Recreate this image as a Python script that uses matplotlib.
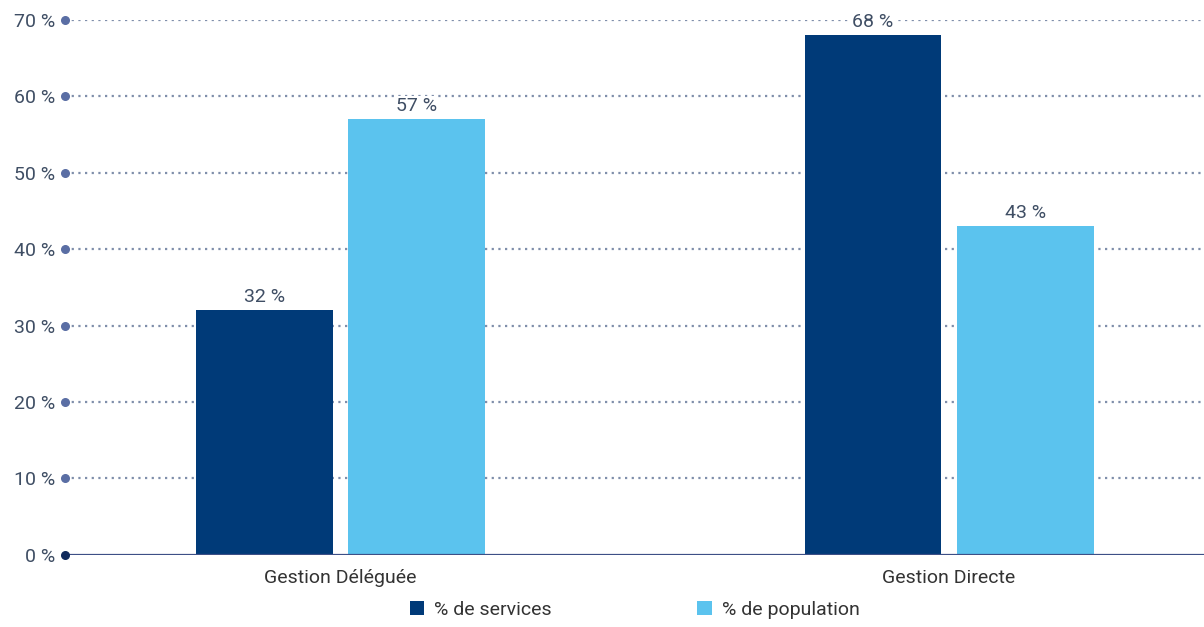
import matplotlib
matplotlib.use('Agg')
import matplotlib.pyplot as plt
import numpy as np

plt.rcParams['font.family'] = ['Roboto', 'DejaVu Sans']

categories = ['Gestion Déléguée', 'Gestion Directe']
services = [32, 68]
population = [57, 43]
series_names = ['% de services', '% de population']
yticks = [0, 10, 20, 30, 40, 50, 60, 70]

DARK = '#003a78'
LIGHT = '#5bc3ee'
GRID = '#7f8eaa'
TEXT = '#3f4e64'

fig = plt.figure(figsize=(12.04, 6.27), dpi=100)
ax = fig.add_axes([0.054, 0.115, 0.946, 0.853])

x = np.arange(len(categories))
w = 0.225
off = 0.125
b1 = ax.bar(x - off, services, w, color=DARK, label=series_names[0], zorder=3)
b2 = ax.bar(x + off, population, w, color=LIGHT, label=series_names[1], zorder=3)

for bars in (b1, b2):
    for rect in bars:
        v = rect.get_height()
        ax.annotate(f'{v:.0f} %', (rect.get_x() + rect.get_width() / 2, v),
                    xytext=(0, 3), textcoords='offset points',
                    ha='center', va='bottom', fontsize=14, color=TEXT, zorder=5,
                    bbox=dict(boxstyle='square,pad=0.05', fc='white', ec='none'))

ax.set_xlim(-0.453, 1.419)
ax.set_ylim(0, 70)
ax.set_yticks(yticks)
ax.set_yticklabels([f'{t} %' for t in yticks])
ax.set_xticks(x)
ax.set_xticklabels(categories)

# grille pointillée + ligne de base pleine
for t in yticks[1:]:
    ax.axhline(t, color=GRID, lw=1.6, ls=(0, (1, 2.0)), zorder=1)
ax.axhline(0, color='#3d4f86', lw=1.6, zorder=4)

# points sur l'axe vertical
ax.scatter([ax.get_xlim()[0]] * len(yticks[1:]), yticks[1:], s=30,
           color='#5a6ea4', clip_on=False, zorder=6)
ax.scatter([ax.get_xlim()[0]], [0], s=30, color='#102a5c', clip_on=False, zorder=6)

for s in ax.spines.values():
    s.set_visible(False)
ax.tick_params(axis='y', length=0, pad=7, labelsize=14, labelcolor=TEXT)
ax.tick_params(axis='x', length=0, pad=10, labelsize=14, labelcolor='#333333')

fig.legend(handles=[b1, b2], labels=series_names, loc='center',
           bbox_to_anchor=(0.527, 0.027), ncol=2, frameon=False,
           fontsize=14, handlelength=0.75, handleheight=0.75,
           columnspacing=7.5, handletextpad=0.5, labelcolor='#333333')

fig.savefig('out.png', dpi=100, facecolor='white')
